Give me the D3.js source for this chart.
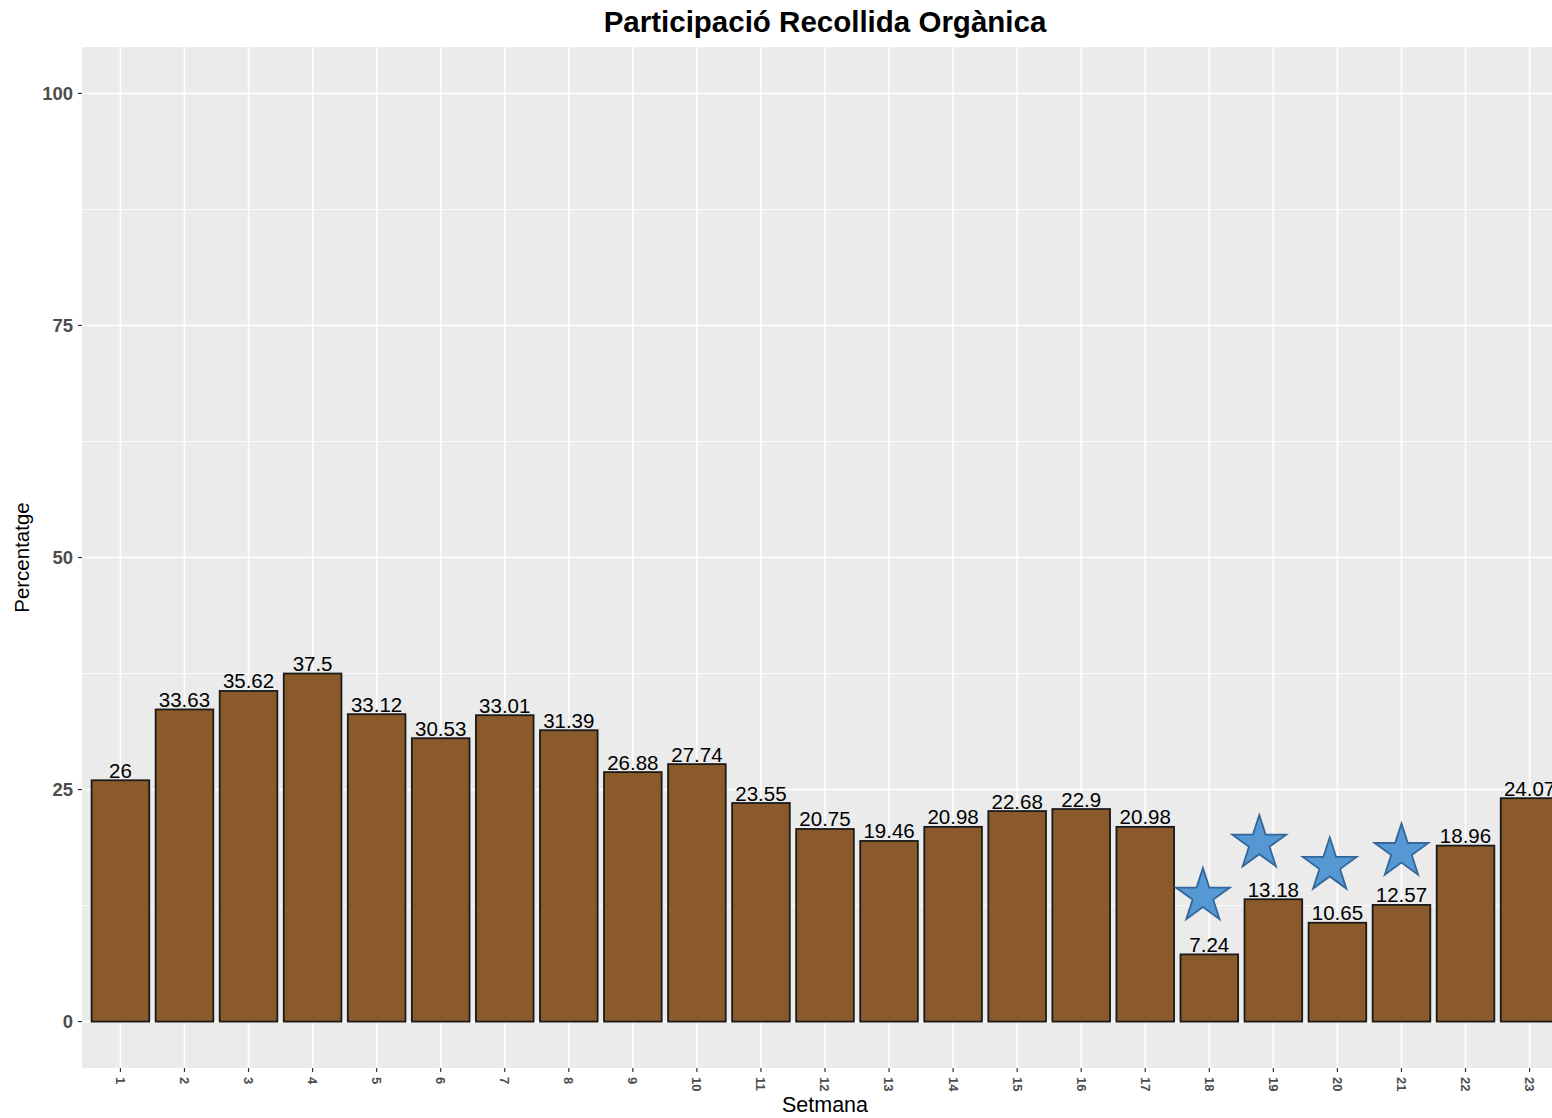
<!DOCTYPE html>
<html>
<head>
<meta charset="utf-8">
<script src="https://cdn.jsdelivr.net/npm/d3@7"></script>
<style>
  html, body { margin: 0; padding: 0; background: #fff; }
  svg { display: block; font-family: "Liberation Sans", Arial, sans-serif; }
</style>
</head>
<body>
<svg id="chart" width="1552" height="1118"></svg>
<script>
// ---- data ----
const weeks = ["1","2","3","4","5","6","7","8","9","10","11","12","13","14","15","16","17","18","19","20","21","22","23"];
const values = [26, 33.63, 35.62, 37.5, 33.12, 30.53, 33.01, 31.39, 26.88, 27.74, 23.55, 20.75, 19.46, 20.98, 22.68, 22.9, 20.98, 7.24, 13.18, 10.65, 12.57, 18.96, 24.07];
const starX = [17.9, 18.78, 19.88, 21.0];
const starY = [13.5, 19.2, 16.8, 18.3];
const yTicks = [0, 25, 50, 75, 100];
const yMinor = [12.5, 37.5, 62.5, 87.5];

// ---- layout ----
const svg = d3.select("#chart");
const panel = { left: 82, top: 47, right: 1568, bottom: 1068 };

const x = d3.scaleLinear().domain([0.4, weeks.length + 0.6]).range([panel.left, panel.right]);
const y = d3.scaleLinear().domain([-5, 105]).range([panel.bottom, panel.top]);
const bw = (x(2) - x(1)) * 0.9;

// panel background
svg.append("rect")
  .attr("x", panel.left).attr("y", panel.top)
  .attr("width", panel.right - panel.left).attr("height", panel.bottom - panel.top)
  .attr("fill", "#EBEBEB");

const g = svg.append("g");
// minor grid
g.selectAll(".ymin").data(yMinor).enter().append("line")
  .attr("x1", panel.left).attr("x2", panel.right)
  .attr("y1", d => y(d)).attr("y2", d => y(d))
  .attr("stroke", "#fff").attr("stroke-width", 0.8);
// major grid
g.selectAll(".ymaj").data(yTicks).enter().append("line")
  .attr("x1", panel.left).attr("x2", panel.right)
  .attr("y1", d => y(d)).attr("y2", d => y(d))
  .attr("stroke", "#fff").attr("stroke-width", 1.6);
g.selectAll(".xmaj").data(weeks).enter().append("line")
  .attr("x1", (d, i) => x(i + 1)).attr("x2", (d, i) => x(i + 1))
  .attr("y1", panel.top).attr("y2", panel.bottom)
  .attr("stroke", "#fff").attr("stroke-width", 1.6);

// bars
g.selectAll(".bar").data(values).enter().append("rect")
  .attr("x", (d, i) => x(i + 1) - bw / 2)
  .attr("y", d => y(d))
  .attr("width", bw)
  .attr("height", d => y(0) - y(d))
  .attr("fill", "#8B5A2B")
  .attr("stroke", "#1a1a1a")
  .attr("stroke-width", 1.8);

// value labels
g.selectAll(".lbl").data(values).enter().append("text")
  .attr("x", (d, i) => x(i + 1))
  .attr("y", d => y(d) - 2.5)
  .attr("text-anchor", "middle")
  .attr("font-size", 20.5)
  .attr("fill", "#000")
  .text(d => d);

// stars
const star = d3.symbol().type(d3.symbolStar).size(900);
g.selectAll(".star").data(starX).enter().append("path")
  .attr("d", star)
  .attr("transform", (d, i) => `translate(${x(d)},${y(starY[i])})`)
  .attr("fill", "#5698D4")
  .attr("stroke", "#33679A")
  .attr("stroke-width", 1.8);

// y axis ticks and labels
const ya = svg.append("g");
ya.selectAll("line").data(yTicks).enter().append("line")
  .attr("x1", panel.left - 4).attr("x2", panel.left)
  .attr("y1", d => y(d)).attr("y2", d => y(d))
  .attr("stroke", "#333").attr("stroke-width", 1.2);
ya.selectAll("text").data(yTicks).enter().append("text")
  .attr("x", panel.left - 9).attr("y", d => y(d))
  .attr("dy", "0.35em")
  .attr("text-anchor", "end")
  .attr("font-size", 18.5).attr("font-weight", "bold")
  .attr("fill", "#4D4D4D")
  .text(d => d);

// x axis ticks and labels
const xa = svg.append("g");
xa.selectAll("line").data(weeks).enter().append("line")
  .attr("x1", (d, i) => x(i + 1)).attr("x2", (d, i) => x(i + 1))
  .attr("y1", panel.bottom).attr("y2", panel.bottom + 4)
  .attr("stroke", "#333").attr("stroke-width", 1.2);
xa.selectAll("text").data(weeks).enter().append("text")
  .attr("transform", (d, i) => `translate(${x(i + 1)},${panel.bottom + 9}) rotate(90)`)
  .attr("dy", "0.35em")
  .attr("text-anchor", "start")
  .attr("font-size", 13).attr("font-weight", "bold")
  .attr("fill", "#4D4D4D")
  .text(d => d);

// titles
svg.append("text")
  .attr("x", (panel.left + panel.right) / 2).attr("y", 32)
  .attr("text-anchor", "middle")
  .attr("font-size", 29.5).attr("font-weight", "bold")
  .attr("fill", "#000")
  .text("Participació Recollida Orgànica");

svg.append("text")
  .attr("x", (panel.left + panel.right) / 2).attr("y", 1112)
  .attr("text-anchor", "middle")
  .attr("font-size", 21.5)
  .attr("fill", "#000")
  .text("Setmana");

svg.append("text")
  .attr("transform", `translate(29,${(panel.top + panel.bottom) / 2}) rotate(-90)`)
  .attr("text-anchor", "middle")
  .attr("font-size", 20.5)
  .attr("fill", "#000")
  .text("Percentatge");
</script>
</body>
</html>
